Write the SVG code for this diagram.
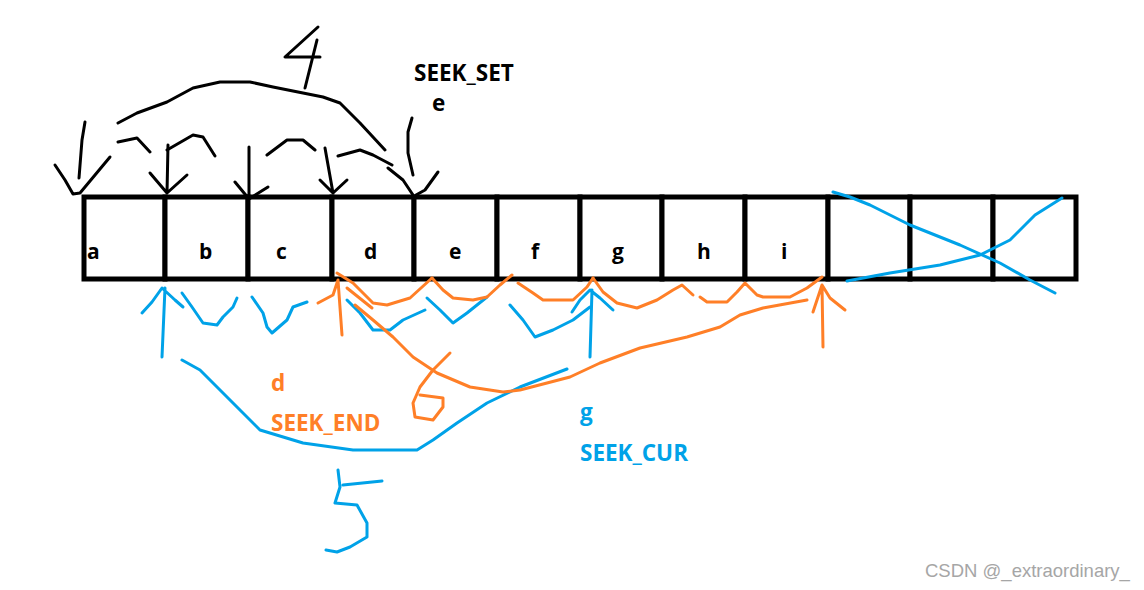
<svg xmlns="http://www.w3.org/2000/svg" width="1144" height="590" viewBox="0 0 1144 590">
<style>
.ink{fill:none;stroke-linecap:round;stroke-linejoin:round;stroke-width:3}
.k{stroke:#000}
.o{stroke:#ff7f27}
.b{stroke:#00a2e8}
.cell{fill:#fff;stroke:#000;stroke-width:5}
.lbl{font-family:"Open Sans","Noto Sans",sans-serif;font-weight:bold;font-size:21px}
.big{font-size:22.5px}
.wm{font-family:"Liberation Sans",Arial,sans-serif;font-size:18.5px;fill:#a6a6a6}
</style>
<rect width="1144" height="590" fill="#fff"/>
<g id="array">
<g id="cell-a"><rect class="cell" x="84" y="197" width="81" height="82"/><text class="lbl" x="87" y="259">a</text></g>
<g id="cell-b"><rect class="cell" x="165" y="197" width="83" height="82"/><text class="lbl" x="199" y="259">b</text></g>
<g id="cell-c"><rect class="cell" x="248" y="197" width="84" height="82"/><text class="lbl" x="276" y="259">c</text></g>
<g id="cell-d"><rect class="cell" x="332" y="197" width="82" height="82"/><text class="lbl" x="364" y="259">d</text></g>
<g id="cell-e"><rect class="cell" x="414" y="197" width="83" height="82"/><text class="lbl" x="449" y="259">e</text></g>
<g id="cell-f"><rect class="cell" x="497" y="197" width="83" height="82"/><text class="lbl" x="531" y="259">f</text></g>
<g id="cell-g"><rect class="cell" x="580" y="197" width="82" height="82"/><text class="lbl" x="612" y="259">g</text></g>
<g id="cell-h"><rect class="cell" x="662" y="197" width="83" height="82"/><text class="lbl" x="697" y="259">h</text></g>
<g id="cell-i"><rect class="cell" x="745" y="197" width="83" height="82"/><text class="lbl" x="781" y="259">i</text></g>
<g id="cell-10"><rect class="cell" x="828" y="197" width="82" height="82"/></g>
<g id="cell-11"><rect class="cell" x="910" y="197" width="83" height="82"/></g>
<g id="cell-12"><rect class="cell" x="993" y="197" width="83" height="82"/></g>
</g>
<g id="seek-set">
<text class="lbl big" x="414" y="81" fill="#000">SEEK_SET</text>
<text class="lbl big" x="432" y="111" fill="#000">e</text>
<path class="ink k" d="M318,27 L285,57 L320,57 M317,40 L305,88"/>
<path class="ink k" d="M118,123 L137,113 L167,102 L193,88 L220,82 L250,82 L273,87 L303,93 L323,97 L340,103 L360,123 L385,150"/>
<path class="ink k" d="M118,142 L137,138 L150,152 M167,150 L193,135 L203,137 L215,156 M267,155 L287,140 L303,140 L315,150 M338,156 L360,150 L373,155 L392,165 M388,168 L403,180 L413,195"/>
<path class="ink k" d="M85,122 L82,140 L79,178 M55,165 L65,180 L73,194 L80,193 L110,157"/>
<path class="ink k" d="M168,145 L167,193 M150,173 L167,193 L187,175"/>
<path class="ink k" d="M249,147 L249,198 M235,182 L249,199 L268,187"/>
<path class="ink k" d="M325,148 L333,193 M320,180 L333,193 L347,180"/>
<path class="ink k" d="M412,118 L408,132 L408,153 L413,175 M416,195 L425,190 L438,172"/>
</g>
<g id="seek-cur">
<text class="lbl big" x="580" y="420" fill="#00a2e8">g</text>
<text class="lbl big" x="580" y="461" fill="#00a2e8">SEEK_CUR</text>
<path class="ink b" d="M162,357 L165,288 M142,313 L152,302 L162,288 L175,300 L183,307"/>
<path class="ink b" d="M182,293 L192,307 L203,323 L217,325 L223,317 L233,307 L237,298"/>
<path class="ink b" d="M252,297 L263,313 L267,327 L272,333 L287,320 L293,307 L307,302"/>
<path class="ink b" d="M347,300 L360,313 L373,330 L390,330 L403,320 L425,310"/>
<path class="ink b" d="M427,298 L440,310 L453,323 L467,313 L487,297"/>
<path class="ink b" d="M510,305 L523,320 L535,337 L553,330 L573,320 L590,307"/>
<path class="ink b" d="M590,357 L592,290 M572,312 L580,300 L590,290 L600,298 L613,310"/>
<path class="ink b" d="M182,360 L200,370 L227,397 L260,430 L303,443 L353,450 L417,450 L433,440 L457,423 L487,403 L520,387 L567,369"/>
<path class="ink b" d="M343,485 L382,481 M338,470 L340,487 L335,503 L357,505 L367,523 L367,537 L350,547 L337,552 L326,550"/>
<path class="ink b" d="M833,192 L850,197 L870,205 L910,225 L960,245 L1000,263 L1030,280 L1055,293"/>
<path class="ink b" d="M847,281 L890,273 L940,265 L980,255 L1010,240 L1035,215 L1062,198"/>
</g>
<g id="seek-end">
<text class="lbl big" x="271" y="391" fill="#ff7f27">d</text>
<text class="lbl big" x="271" y="431" fill="#ff7f27">SEEK_END</text>
<path class="ink o" d="M342,335 L338,280 M318,303 L333,295 L338,280"/>
<path class="ink o" d="M337,273 L353,283 L373,303 L387,305 L410,298 L432,278 M347,288 L372,308"/>
<path class="ink o" d="M432,278 L443,290 L453,298 L473,300 L487,297 L500,285 L512,275"/>
<path class="ink o" d="M518,283 L533,293 L543,300 L573,300 L587,287 L593,278"/>
<path class="ink o" d="M593,278 L603,292 L617,303 L637,308 L657,300 L673,290 L682,285 L693,295"/>
<path class="ink o" d="M700,297 L707,302 L727,302 L737,292 L745,283 L757,295 L763,297 L790,297 L807,288 L822,277"/>
<path class="ink o" d="M823,347 L822,285 M813,312 L822,285 L830,298 L845,310"/>
<path class="ink o" d="M355,305 L373,320 L393,337 L413,357 L437,373 L470,387 L503,392 L520,390 L547,383 L570,377 L600,363 L640,348 L687,337 L720,327 L740,315 L763,308 L807,300"/>
<path class="ink o" d="M450,353 L433,370 L420,387 L413,403 L415,417 L433,420 L443,407 L443,398 L420,395"/>
</g>
<text class="wm" x="925" y="577">CSDN @_extraordinary_</text>
</svg>
